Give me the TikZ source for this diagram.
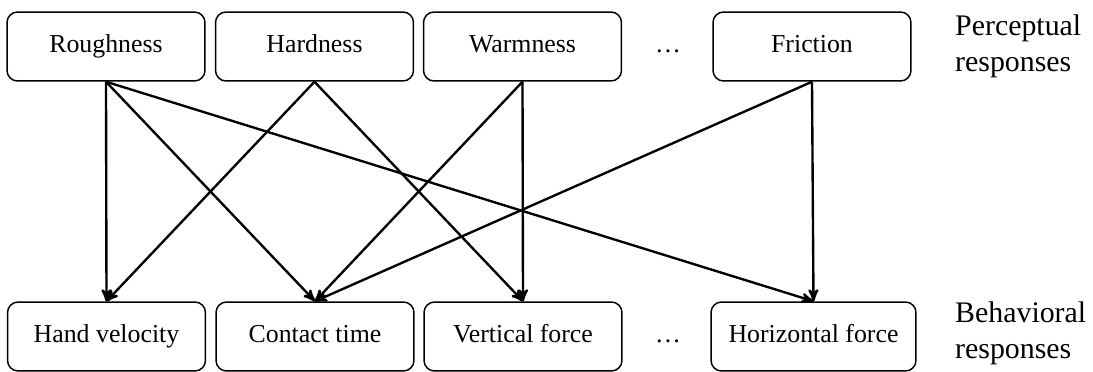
\documentclass[tikz,border=0pt]{standalone}
\usepackage{fontspec}
\setmainfont{Liberation Serif}
\usepackage{tikz}
\usetikzlibrary{arrows,positioning}

\begin{document}
\begin{tikzpicture}[x=0.02cm,y=-0.02cm,->,>=stealth',line width=1.35pt,
	boxnode/.style={rectangle,draw,-,line width=0.85pt,rounded corners=6pt,minimum width=3.96cm,minimum height=1.38cm,inner sep=0pt,text height=1.55ex,text depth=0pt,font=\fontsize{14.7}{17}\selectfont},
	dotsnode/.style={inner sep=0pt,text height=1.55ex,text depth=0pt,font=\fontsize{14.7}{17}\selectfont},
	sidenode/.style={anchor=west,align=left,inner sep=0pt,font=\fontsize{17}{20.5}\selectfont}]
	
	\useasboundingbox (0,0) rectangle (1093,372);
	
	% perceptual responses
	\node [boxnode] (rough) at (106, 46.5) {Roughness};
	\node [boxnode] (hard) at (314.5, 46.5) {Hardness};
	\node [boxnode] (warm) at (522.5, 46.5) {Warmness};
	\node [dotsnode] (pdots) at (668, 46.5) {\dots};
	\node [boxnode] (fric) at (812, 46.5) {Friction};
	\node [sidenode] (plabel) at (954, 46.5) {Perceptual\\responses};
	
	% behavioral responses
	\node [boxnode] (vel) at (106.5, 336.5) {Hand velocity};
	\node [boxnode] (time) at (315, 336.5) {Contact time};
	\node [boxnode] (vert) at (523, 336.5) {Vertical force};
	\node [dotsnode] (bdots) at (668, 336.5) {\dots};
	\node [boxnode, minimum width=4.1cm] (horz) at (813.5, 336.5) {Horizontal force};
	\node [sidenode] (blabel) at (954, 333) {Behavioral\\responses};
	
	\draw (rough.south) to (vel.north);
	\draw (rough.south) to (time.north);
	\draw (rough.south) to (horz.north);
	\draw (hard.south) to (vel.north);
	\draw (hard.south) to (vert.north);
	\draw (warm.south) to (time.north);
	\draw (warm.south) to (vert.north);
	\draw (fric.south) to (time.north);
	\draw (fric.south) to (horz.north);
\end{tikzpicture}
\end{document}
